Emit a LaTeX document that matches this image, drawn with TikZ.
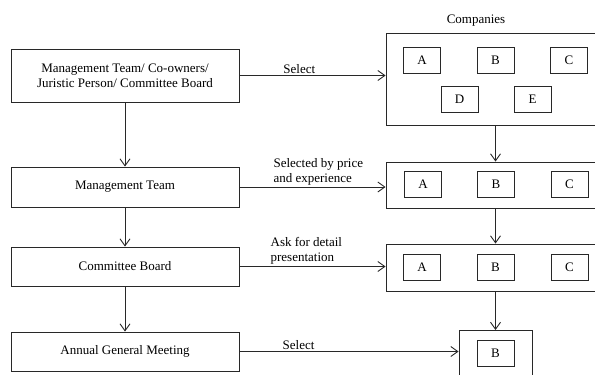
\documentclass[tikz,border=0pt]{standalone}
\usepackage{fontspec}
\setmainfont{Liberation Serif}
\usepackage{tikz}
\usetikzlibrary{arrows.meta,positioning,calc}
\definecolor{ink}{RGB}{40,40,40}
\tikzset{
  stage/.style={draw=ink, line width=0.9pt, fill=white, align=center,
    minimum width=228pt, font=\fontsize{13}{15}\selectfont},
  panel/.style={draw=ink, line width=0.9pt, minimum width=210pt},
  firm/.style={draw=ink, line width=0.9pt, minimum width=37pt, minimum height=26pt,
    font=\fontsize{13}{15}\selectfont},
  flow/.style={draw=ink, line width=0.9pt, -{Straight Barb[length=7pt,width=10pt]}},
  lbl/.style={font=\fontsize{13}{15}\selectfont, align=left, inner sep=1.5pt}
}
\begin{document}
\begin{tikzpicture}[x=1pt,y=1pt]
    \clip (0,0) rectangle (595,-375);
    % 左栏
    \node[stage, minimum height=53pt] (m1) at (125,-75.5){Management Team/ Co-owners/\\Juristic Person/ Committee Board};
    \node[stage, minimum height=40pt] (m2) at (125,-187){Management Team};
    \node[stage, minimum height=39pt] (m3) at (125,-266.5){Committee Board};
    \node[stage, minimum height=39pt] (m4) at (125,-351.5){Annual General Meeting};
    % 右栏
    \node[panel, minimum height=92pt] (c1) at (491,-79){};
    \node[font=\fontsize{13}{15}\selectfont, above=3pt of c1.north, xshift=-15pt] (title){Companies};
    \node[firm] (c1a) at (422,-60){A};
    \node[firm] (c1b) at (495.5,-60){B};
    \node[firm] (c1c) at (569,-60){C};
    \node[firm] (c1d) at (459.5,-99){D};
    \node[firm] (c1e) at (532.5,-99){E};
    \node[panel, minimum height=46pt] (c2) at (491,-185){};
    \node[firm] (c2a) at (423,-184.5){A};
    \node[firm] (c2b) at (496,-184.5){B};
    \node[firm] (c2c) at (569.5,-184.5){C};
    \node[panel, minimum height=47pt] (c3) at (491,-267.5){};
    \node[firm] (c3a) at (422,-267){A};
    \node[firm] (c3b) at (495.5,-267){B};
    \node[firm] (c3c) at (569.5,-267){C};
    \node[panel, minimum width=73pt, minimum height=52pt, anchor=north] (c4) at (495.5,-330){};
    \node[firm] (c4b) at (495.5,-353){B};
    % 流程
    \draw[flow] (m1) -- (m2);
    \draw[flow] (m2) -- (m3);
    \draw[flow] (m3) -- (m4);
    \draw[flow] (c1b |- c1.south) -- (c1b |- c2.north);
    \draw[flow] (c1b |- c2.south) -- (c1b |- c3.north);
    \draw[flow] (c1b |- c3.south) -- (c1b |- c4.north);
    \draw[flow] (m1.east) -- node[lbl, pos=0.41, above]{Select} (m1.east -| c1.west);
    \draw[flow] (m2.east) -- node[lbl, pos=0.22, anchor=south west]{Selected by price\\and experience} (m2.east -| c2.west);
    \draw[flow] (m3.east) -- node[lbl, pos=0.2, anchor=south west]{Ask for detail\\presentation} (m3.east -| c3.west);
    \draw[flow] (m4.east) -- node[lbl, pos=0.27, above]{Select} (m4.east -| c4.west);
  \end{tikzpicture}
\end{document}
